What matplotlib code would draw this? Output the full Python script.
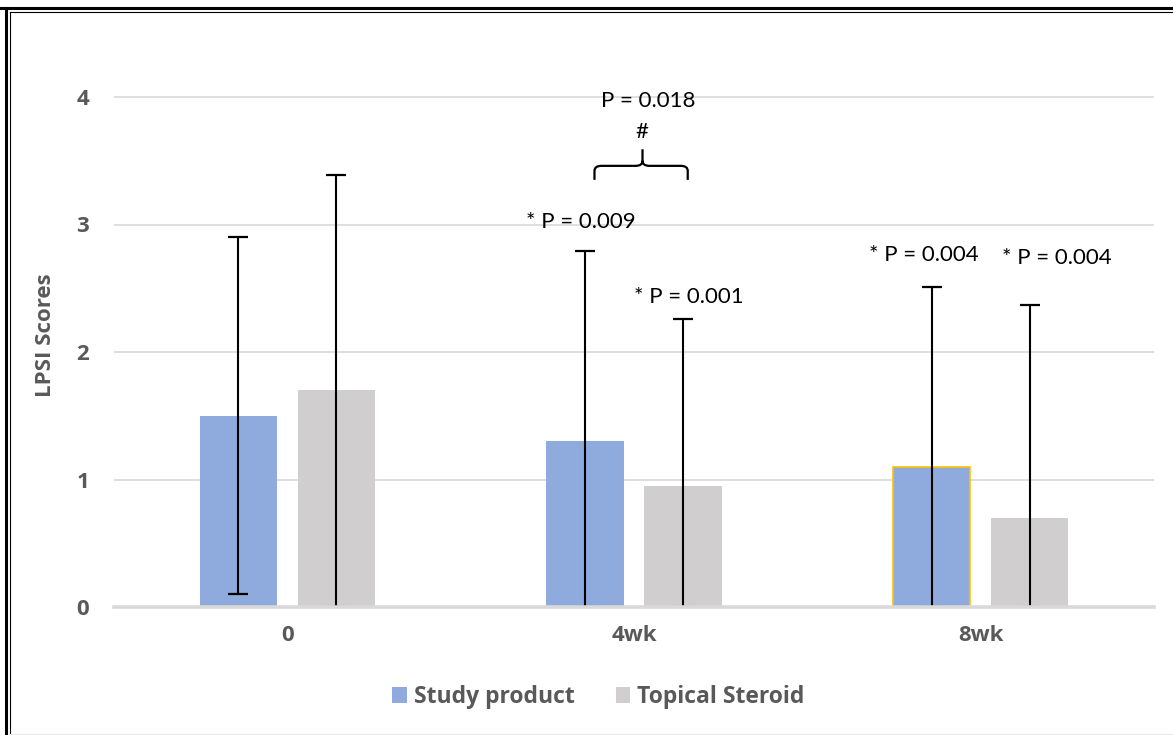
import numpy as np
import matplotlib
matplotlib.use("Agg")
import matplotlib.pyplot as plt
from matplotlib.patches import Patch
from matplotlib.path import Path
from matplotlib.patches import PathPatch
from matplotlib.lines import Line2D

plt.rcParams["font.family"] = ["Lato", "DejaVu Sans"]
bold_font = ["Open Sans", "DejaVu Sans"]

# data
groups = ["0", "4wk", "8wk"]
series = ["Study product", "Topical Steroid"]
study_mean = [1.5, 1.3, 1.1]
study_err_up = [1.4, 1.49, 1.41]
study_err_low = [1.4, 1.3, 1.1]
steroid_mean = [1.7, 0.95, 0.7]
steroid_err_up = [1.69, 1.31, 1.67]
steroid_err_low = [1.7, 0.95, 0.7]

blue = "#8FAADC"
grey = "#D0CECE"
txt = "#595959"
grid_c = "#D9D9D9"

fig = plt.figure(figsize=(11.73, 7.35), dpi=100)
ax = fig.add_axes([114 / 1173, 1 - 607 / 735, 1040 / 1173, 573.75 / 735])

x = np.arange(len(groups))
off = 0.1416
w = 0.223

b1 = ax.bar(x - off, study_mean, w, color=blue, zorder=2)
b2 = ax.bar(x + off, steroid_mean, w, color=grey, zorder=2)
# the 8wk study bar has a gold outline in the original
b1[2].set_edgecolor("#FFC000")
b1[2].set_linewidth(1.2)

ax.errorbar(x - off, study_mean, yerr=[study_err_low, study_err_up], fmt="none",
            ecolor="black", elinewidth=1.5, capsize=7.5, capthick=1.6, zorder=3)
ax.errorbar(x + off, steroid_mean, yerr=[steroid_err_low, steroid_err_up], fmt="none",
            ecolor="black", elinewidth=1.5, capsize=7.5, capthick=1.6, zorder=3)

ax.set_xlim(-0.5, 2.5)
ax.set_ylim(0, 4.5)
ax.set_yticks([0, 1, 2, 3, 4])
for yv in [1, 2, 3, 4]:
    ax.axhline(yv, color=grid_c, lw=1.2, zorder=1)
ax.axhline(0, color=grid_c, lw=2.6, zorder=4, clip_on=False)

for s in ax.spines.values():
    s.set_visible(False)
ax.tick_params(length=0)
ax.tick_params(axis="y", pad=18, labelcolor=txt)
ax.tick_params(axis="x", pad=13, labelcolor=txt)
ax.set_xticks(x)
ax.set_xticklabels(groups)
for t in ax.get_xticklabels() + ax.get_yticklabels():
    t.set_fontweight("bold")
    t.set_family(bold_font)
    t.set_fontsize(16)

ax.set_ylabel("LPSI Scores", fontsize=16, fontweight="bold", color=txt, family=bold_font)
ax.yaxis.set_label_coords(-0.056, 0.474)

# p-value annotations
fs = 16
ax.text(0.848, 3.02, "* P = 0.009", ha="center", va="center", fontsize=fs)
ax.text(1.158, 2.43, "* P = 0.001", ha="center", va="center", fontsize=fs)
ax.text(1.837, 2.76, "* P = 0.004", ha="center", va="center", fontsize=fs)
ax.text(2.22, 2.74, "* P = 0.004", ha="center", va="center", fontsize=fs)
ax.text(1.042, 3.97, "P = 0.018", ha="center", va="center", fontsize=fs)
ax.text(1.022, 3.725, "#", ha="center", va="center", fontsize=fs)

# curly brace over the 4wk pair
xl, xr, xm = 0.886, 1.155, 1.0245
yb, yh, yt = 3.35, 3.46, 3.59
dx, dy = 0.02, 0.04
verts = [(xl, yb), (xl, yh - dy), (xl, yh), (xl + dx, yh),
         (xm - dx, yh), (xm, yh), (xm, yh + dy), (xm, yt),
         (xm, yh + dy), (xm, yh), (xm + dx, yh),
         (xr - dx, yh), (xr, yh), (xr, yh - dy), (xr, yb)]
codes = [Path.MOVETO, Path.LINETO, Path.CURVE3, Path.CURVE3,
         Path.LINETO, Path.CURVE3, Path.CURVE3, Path.LINETO,
         Path.MOVETO, Path.CURVE3, Path.CURVE3,
         Path.LINETO, Path.CURVE3, Path.CURVE3, Path.LINETO]
ax.add_patch(PathPatch(Path(verts, codes), fill=False, lw=1.6, color="black",
                       capstyle="butt"))

handles = [Patch(facecolor=blue, edgecolor="none"), Patch(facecolor=grey, edgecolor="none")]
leg = fig.legend(handles, series, loc="center", bbox_to_anchor=(0.510, 1 - 697 / 735),
                 ncol=2, frameon=False, handlelength=0.65, handleheight=0.65,
                 handletextpad=0.3, columnspacing=1.8,
                 prop={"size": 16.5, "weight": "bold", "family": bold_font})
for t in leg.get_texts():
    t.set_color(txt)

# double frame around the figure
fig.add_artist(Line2D([0, 1], [1 - 8 / 735] * 2, color="black", lw=2.2, transform=fig.transFigure))
fig.add_artist(Line2D([10 / 1173, 1], [1 - 11.5 / 735] * 2, color="black", lw=0.8, transform=fig.transFigure))
fig.add_artist(Line2D([6 / 1173] * 2, [0, 1 - 8 / 735], color="black", lw=2.2, transform=fig.transFigure))
fig.add_artist(Line2D([10 / 1173] * 2, [0, 1 - 11.5 / 735], color="black", lw=0.8, transform=fig.transFigure))
fig.add_artist(Line2D([10 / 1173, 1], [1.5 / 735] * 2, color="#E6E6E6", lw=0.8, transform=fig.transFigure))

fig.savefig("out.png", dpi=100)
